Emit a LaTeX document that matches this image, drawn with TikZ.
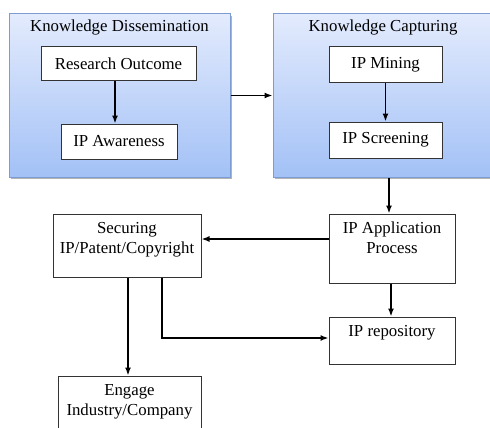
\documentclass[tikz,border=0pt]{standalone}
\usepackage{fontspec}
\setmainfont{Liberation Serif}
\usetikzlibrary{arrows.meta,positioning,shadows}

\definecolor{stagetop}{HTML}{E3EBFD}
\definecolor{stagebot}{HTML}{A3C1F6}
\definecolor{stageline}{HTML}{7C9CD2}

\begin{document}
\begin{tikzpicture}[x=1pt, y=-1pt,
    every node/.style={font=\fontsize{16.8}{20}\selectfont},
    stage/.style={draw=stageline, line width=1pt, top color=stagetop, bottom color=stagebot,
      drop shadow={shadow xshift=1.8pt, shadow yshift=-1.8pt, fill=black!50, opacity=0.6}},
    plain/.style={draw=black!80, fill=white, line width=1pt},
    toptext/.style={anchor=north, align=center, yshift=-5pt},
    arr/.style={-{Latex[length=8pt,width=6pt]}, line width=1.5pt}]
  \useasboundingbox (0,0) rectangle (490,428);
  \clip (0,0) rectangle (490,428);

  % the two stages
  \node[stage, minimum width=221, minimum height=163] (dissem) at (119.5,95.5) {};
  \node[below=3pt of dissem.north] (dissemtitle) {Knowledge Dissemination};
  \node[stage, minimum width=223, minimum height=163] (capture) at (384.5,95.5) {};
  \node[below=3pt of capture.north, xshift=-1.5pt] (capturetitle) {Knowledge Capturing};

  % inner boxes
  \node[plain, minimum width=155, minimum height=34] (research) at (118.5,64) {Research Outcome};
  \node[plain, minimum width=116, minimum height=35] (awareness) at (119,141.5) {IP Awareness};
  \node[plain, minimum width=113, minimum height=36] (mining) at (385.5,65) {IP Mining};
  \node[plain, minimum width=113, minimum height=36] (screening) at (385.5,140) {IP Screening};

  % lower boxes
  \node[plain, minimum width=126, minimum height=69,
    label={[toptext]north:IP Application\\Process}] (appl) at (392,248.5) {};
  \node[plain, minimum width=126, minimum height=47,
    label={[toptext]north:IP repository}] (repo) at (392,340.5) {};
  \node[plain, minimum width=148, minimum height=63,
    label={[toptext]north:Securing\\IP/Patent/Copyright}] (secure) at (127,245.5) {};
  \node[plain, minimum width=143, minimum height=66,
    label={[toptext]north:Engage\\Industry/Company}] (engage) at (129.5,409) {};

  % connectors
  \draw[arr] ([xshift=-3.5pt]research.south) -- ([xshift=-3.5pt]research.south |- awareness.north);
  \draw[arr] (dissem.east) -- (capture.west);
  \draw[arr] (mining.south) -- (mining.south |- screening.north);
  \draw[arr] ([xshift=4.5pt]capture.south) -- ([xshift=-3pt]appl.north);
  \draw[arr] ([yshift=9.5pt]appl.west) coordinate (applout) -- (applout -| secure.east);
  \draw[arr] ([xshift=-1pt]appl.south) -- ([xshift=-1pt]repo.north);
  \draw[arr] ([xshift=1pt]secure.south) -- ([xshift=1pt]secure.south |- engage.north);
  \draw[arr] ([xshift=35pt]secure.south) |- ([yshift=2.5pt]repo.west);
\end{tikzpicture}
\end{document}
